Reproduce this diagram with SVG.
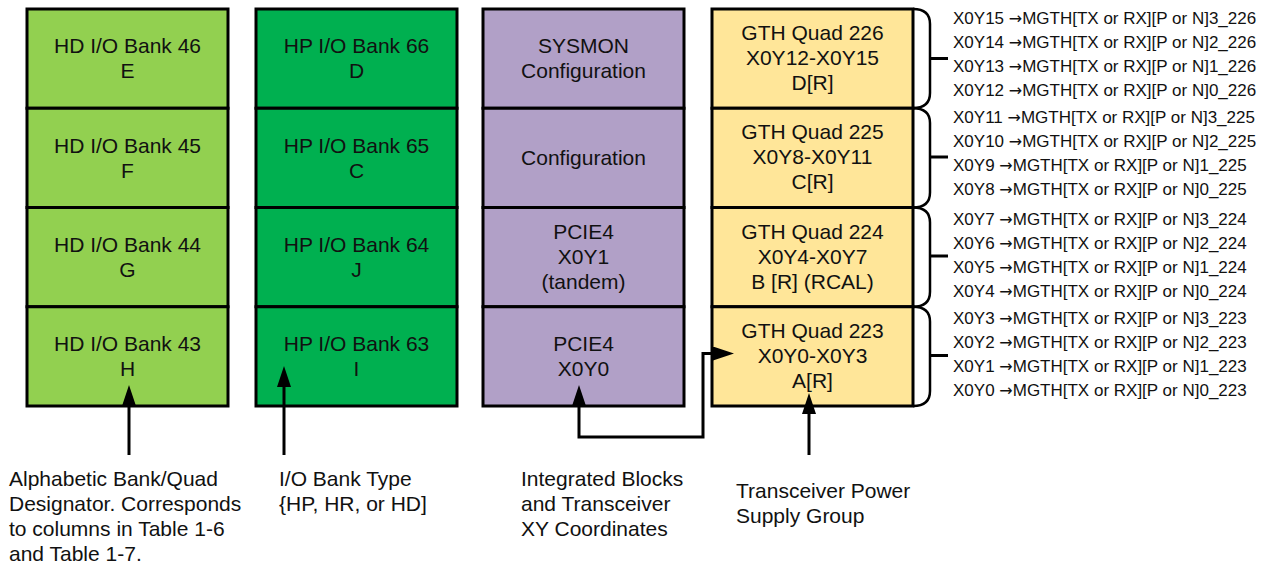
<svg xmlns="http://www.w3.org/2000/svg" width="1275" height="567" viewBox="0 0 1275 567">
<style>
.box{stroke:#000;stroke-width:3}
.hd{fill:#92D050}
.hp{fill:#00B050}
.pu{fill:#B1A0C7}
.ye{fill:#FFE699}
.t{font-family:"Liberation Sans",Arial,sans-serif;font-size:21px;fill:#111;text-anchor:middle}
.l{font-family:"Liberation Sans",Arial,sans-serif;font-size:21px;fill:#111}
.s{font-family:"Liberation Sans",Arial,sans-serif;font-size:17px;fill:#111}
.a{font-family:"DejaVu Sans",sans-serif;font-size:16px}
.ln{fill:none;stroke:#000;stroke-width:3}
.br{fill:none;stroke:#000;stroke-width:2.5}
</style>
<defs>
<marker id="ah" markerUnits="userSpaceOnUse" markerWidth="22" markerHeight="16" refX="0" refY="7" orient="auto-start-reverse">
<path d="M0,0 L21,7 L0,14 z" fill="#000"/>
</marker>
</defs>
<rect width="1275" height="567" fill="#fff"/>

<g id="col-hd">
<g id="hd46"><rect class="box hd" x="27" y="9" width="201" height="99.25"/><text class="t" x="127.5" y="53">HD I/O Bank 46</text><text class="t" x="127.5" y="78">E</text></g>
<g id="hd45"><rect class="box hd" x="27" y="108.25" width="201" height="99.25"/><text class="t" x="127.5" y="152.5">HD I/O Bank 45</text><text class="t" x="127.5" y="177.5">F</text></g>
<g id="hd44"><rect class="box hd" x="27" y="207.5" width="201" height="99.25"/><text class="t" x="127.5" y="251.5">HD I/O Bank 44</text><text class="t" x="127.5" y="276.5">G</text></g>
<g id="hd43"><rect class="box hd" x="27" y="306.75" width="201" height="99.25"/><text class="t" x="127.5" y="350.5">HD I/O Bank 43</text><text class="t" x="127.5" y="375.5">H</text></g>
</g>

<g id="col-hp">
<g id="hp66"><rect class="box hp" x="256" y="9" width="201" height="99.25"/><text class="t" x="356.5" y="53">HP I/O Bank 66</text><text class="t" x="356.5" y="78">D</text></g>
<g id="hp65"><rect class="box hp" x="256" y="108.25" width="201" height="99.25"/><text class="t" x="356.5" y="152.5">HP I/O Bank 65</text><text class="t" x="356.5" y="177.5">C</text></g>
<g id="hp64"><rect class="box hp" x="256" y="207.5" width="201" height="99.25"/><text class="t" x="356.5" y="251.5">HP I/O Bank 64</text><text class="t" x="356.5" y="276.5">J</text></g>
<g id="hp63"><rect class="box hp" x="256" y="306.75" width="201" height="99.25"/><text class="t" x="356.5" y="350.5">HP I/O Bank 63</text><text class="t" x="356.5" y="375.5">I</text></g>
</g>

<g id="col-int">
<g id="sysmon"><rect class="box pu" x="483" y="9" width="201" height="99.25"/><text class="t" x="583.5" y="53">SYSMON</text><text class="t" x="583.5" y="78">Configuration</text></g>
<g id="config"><rect class="box pu" x="483" y="108.25" width="201" height="99.25"/><text class="t" x="583.5" y="165">Configuration</text></g>
<g id="pcie1"><rect class="box pu" x="483" y="207.5" width="201" height="99.25"/><text class="t" x="583.5" y="238.5">PCIE4</text><text class="t" x="583.5" y="263.5">X0Y1</text><text class="t" x="583.5" y="288.5">(tandem)</text></g>
<g id="pcie0"><rect class="box pu" x="483" y="306.75" width="201" height="99.25"/><text class="t" x="583.5" y="350.5">PCIE4</text><text class="t" x="583.5" y="375.5">X0Y0</text></g>
</g>

<g id="col-gth">
<g id="q226"><rect class="box ye" x="712" y="9" width="201" height="99.25"/><text class="t" x="812.5" y="39.5">GTH Quad 226</text><text class="t" x="812.5" y="64.5">X0Y12-X0Y15</text><text class="t" x="812.5" y="89.5">D[R]</text></g>
<g id="q225"><rect class="box ye" x="712" y="108.25" width="201" height="99.25"/><text class="t" x="812.5" y="139">GTH Quad 225</text><text class="t" x="812.5" y="164">X0Y8-X0Y11</text><text class="t" x="812.5" y="189">C[R]</text></g>
<g id="q224"><rect class="box ye" x="712" y="207.5" width="201" height="99.25"/><text class="t" x="812.5" y="238.5">GTH Quad 224</text><text class="t" x="812.5" y="263.5">X0Y4-X0Y7</text><text class="t" x="812.5" y="288.5">B [R] (RCAL)</text></g>
<g id="q223"><rect class="box ye" x="712" y="306.75" width="201" height="99.25"/><text class="t" x="812.5" y="337.5">GTH Quad 223</text><text class="t" x="812.5" y="362.5">X0Y0-X0Y3</text><text class="t" x="812.5" y="387.5">A[R]</text></g>
</g>

<g id="braces">
<path class="br" d="M913,9 Q930,9 930,24 L930,93 Q930,108 913,108"/><path class="ln" d="M930,58.5 L948,58.5"/>
<path class="br" d="M913,108.25 Q930,108.25 930,123 L930,192.5 Q930,207.5 913,207.5"/><path class="ln" d="M930,157 L948,157"/>
<path class="br" d="M913,207.5 Q930,207.5 930,222.5 L930,291.75 Q930,306.75 913,306.75"/><path class="ln" d="M930,256 L948,256"/>
<path class="br" d="M913,306.75 Q930,306.75 930,321.75 L930,391 Q930,406 913,406"/><path class="ln" d="M930,355.5 L948,355.5"/>
</g>

<g id="pins">
<text class="s" x="953" y="24">X0Y15 <tspan class="a">→</tspan>MGTH[TX or RX][P or N]3_226</text>
<text class="s" x="953" y="48">X0Y14 <tspan class="a">→</tspan>MGTH[TX or RX][P or N]2_226</text>
<text class="s" x="953" y="72">X0Y13 <tspan class="a">→</tspan>MGTH[TX or RX][P or N]1_226</text>
<text class="s" x="953" y="96">X0Y12 <tspan class="a">→</tspan>MGTH[TX or RX][P or N]0_226</text>
<text class="s" x="953" y="123">X0Y11 <tspan class="a">→</tspan>MGTH[TX or RX][P or N]3_225</text>
<text class="s" x="953" y="147">X0Y10 <tspan class="a">→</tspan>MGTH[TX or RX][P or N]2_225</text>
<text class="s" x="953" y="171">X0Y9 <tspan class="a">→</tspan>MGTH[TX or RX][P or N]1_225</text>
<text class="s" x="953" y="195">X0Y8 <tspan class="a">→</tspan>MGTH[TX or RX][P or N]0_225</text>
<text class="s" x="953" y="225">X0Y7 <tspan class="a">→</tspan>MGTH[TX or RX][P or N]3_224</text>
<text class="s" x="953" y="249">X0Y6 <tspan class="a">→</tspan>MGTH[TX or RX][P or N]2_224</text>
<text class="s" x="953" y="273">X0Y5 <tspan class="a">→</tspan>MGTH[TX or RX][P or N]1_224</text>
<text class="s" x="953" y="297">X0Y4 <tspan class="a">→</tspan>MGTH[TX or RX][P or N]0_224</text>
<text class="s" x="953" y="324">X0Y3 <tspan class="a">→</tspan>MGTH[TX or RX][P or N]3_223</text>
<text class="s" x="953" y="348">X0Y2 <tspan class="a">→</tspan>MGTH[TX or RX][P or N]2_223</text>
<text class="s" x="953" y="372">X0Y1 <tspan class="a">→</tspan>MGTH[TX or RX][P or N]1_223</text>
<text class="s" x="953" y="396">X0Y0 <tspan class="a">→</tspan>MGTH[TX or RX][P or N]0_223</text>
</g>

<g id="connectors">
<path class="ln" d="M129,455 L129,406" marker-end="url(#ah)"/>
<path class="ln" d="M284,455 L284,387" marker-end="url(#ah)"/>
<path class="ln" d="M579,406 L579,437 L703,437 L703,353.5 L713,353.5" marker-start="url(#ah)" marker-end="url(#ah)"/>
<path class="ln" d="M809,455 L809,414" marker-end="url(#ah)"/>
</g>

<g id="labels">
<text class="l" x="9" y="486">Alphabetic Bank/Quad</text>
<text class="l" x="9" y="511">Designator. Corresponds</text>
<text class="l" x="9" y="536">to columns in Table 1-6</text>
<text class="l" x="9" y="561">and Table 1-7.</text>
<text class="l" x="279" y="486">I/O Bank Type</text>
<text class="l" x="279" y="511">{HP, HR, or HD]</text>
<text class="l" x="521" y="485.5">Integrated Blocks</text>
<text class="l" x="521" y="510.5">and Transceiver</text>
<text class="l" x="521" y="535.5">XY Coordinates</text>
<text class="l" x="736" y="498">Transceiver Power</text>
<text class="l" x="736" y="523">Supply Group</text>
</g>
</svg>
